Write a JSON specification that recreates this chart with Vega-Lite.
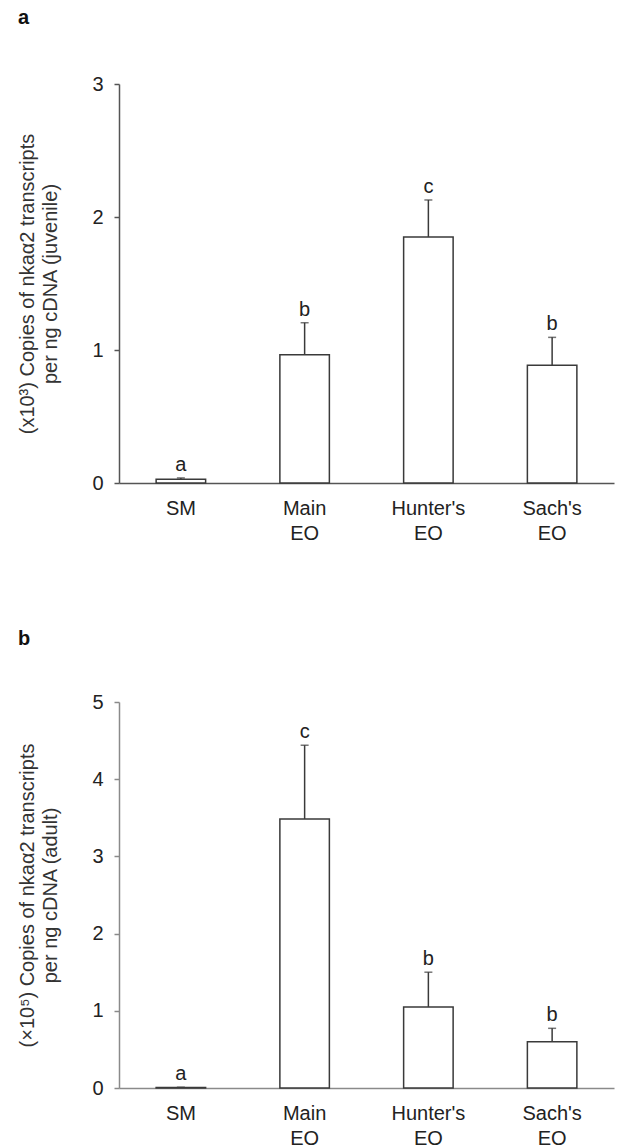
{
  "$schema": "https://vega.github.io/schema/vega-lite/v6.json",
  "padding": {"left": 17, "top": 8, "right": 5, "bottom": 5},
  "background": "white",
  "config": {
    "font": "Liberation Sans",
    "view": {"stroke": null},
    "concat": {"spacing": 86},
    "axis": {
      "grid": false,
      "labelFont": "Liberation Sans",
      "labelFontSize": 20,
      "labelColor": "#222222",
      "domainColor": "#555555",
      "tickColor": "#555555",
      "domainWidth": 1.5,
      "tickWidth": 1.5,
      "titleFont": "Liberation Sans",
      "titleFontSize": 20,
      "titleFontWeight": "normal",
      "titleColor": "#333333"
    },
    "title": {"font": "Liberation Sans", "fontSize": 20, "fontWeight": "bold", "anchor": "start", "frame": "bounds", "color": "#111111", "baseline": "alphabetic"}
  },
  "datasets": {
    "juvenile": [
      {"tissue": "SM", "mean": 0.028, "upper": 0.038, "letter": "a"},
      {"tissue": "Main EO", "mean": 0.965, "upper": 1.205, "letter": "b"},
      {"tissue": "Hunter's EO", "mean": 1.85, "upper": 2.128, "letter": "c"},
      {"tissue": "Sach's EO", "mean": 0.885, "upper": 1.095, "letter": "b"}
    ],
    "adult": [
      {"tissue": "SM", "mean": 0.008, "upper": 0.01, "letter": "a"},
      {"tissue": "Main EO", "mean": 3.485, "upper": 4.44, "letter": "c"},
      {"tissue": "Hunter's EO", "mean": 1.05, "upper": 1.5, "letter": "b"},
      {"tissue": "Sach's EO", "mean": 0.6, "upper": 0.773, "letter": "b"}
    ]
  },
  "vconcat": [
    {
      "title": {"text": "a", "offset": 46},
      "width": 495,
      "height": 399,
      "data": {"name": "juvenile"},
      "encoding": {
        "x": {
          "field": "tissue", "type": "nominal", "sort": null,
          "scale": {"paddingInner": 0.6, "paddingOuter": 0.3},
          "axis": {"title": null, "labelAngle": 0, "ticks": false, "labelPadding": 15, "labelBaseline": "top", "labelLineHeight": 25, "labelExpr": "split(datum.label, ' ')"}
        }
      },
      "layer": [
        {
          "mark": {"type": "bar", "fill": "white", "stroke": "#3a3a3a", "strokeWidth": 1.5},
          "encoding": {
            "y": {
              "field": "mean", "type": "quantitative",
              "scale": {"domain": [0, 3], "nice": false},
              "axis": {"values": [0, 1, 2, 3], "format": "d", "tickSize": 5, "labelPadding": 11, "titlePadding": 31, "titleLineHeight": 23,
                "title": ["(x10³) Copies of nkaα2 transcripts", "per ng cDNA (juvenile)"]}
            }
          }
        },
        {
          "mark": {"type": "rule", "color": "#3a3a3a", "strokeWidth": 1.5},
          "encoding": {"y": {"field": "mean", "type": "quantitative"}, "y2": {"field": "upper"}}
        },
        {
          "mark": {"type": "tick", "color": "#3a3a3a", "thickness": 1.5, "size": 8},
          "encoding": {"y": {"field": "upper", "type": "quantitative"}}
        },
        {
          "mark": {"type": "text", "fontSize": 20, "baseline": "alphabetic", "dy": -7, "color": "#222222"},
          "encoding": {"y": {"field": "upper", "type": "quantitative"}, "text": {"field": "letter"}}
        }
      ]
    },
    {
      "title": {"text": "b", "offset": 43},
      "width": 495,
      "height": 386,
      "data": {"name": "adult"},
      "encoding": {
        "x": {
          "field": "tissue", "type": "nominal", "sort": null,
          "scale": {"paddingInner": 0.6, "paddingOuter": 0.3},
          "axis": {"title": null, "labelAngle": 0, "ticks": false, "labelPadding": 15, "labelBaseline": "top", "labelLineHeight": 25, "labelExpr": "split(datum.label, ' ')", "domainColor": "#8a8a8a"}
        }
      },
      "layer": [
        {
          "mark": {"type": "bar", "fill": "white", "stroke": "#3a3a3a", "strokeWidth": 1.5},
          "encoding": {
            "y": {
              "field": "mean", "type": "quantitative",
              "scale": {"domain": [0, 5], "nice": false},
              "axis": {"values": [0, 1, 2, 3, 4, 5], "format": "d", "tickSize": 5, "labelPadding": 11, "titlePadding": 31, "titleLineHeight": 23, "domainColor": "#8a8a8a", "tickColor": "#8a8a8a",
                "title": ["(×10⁵) Copies of nkaα2 transcripts", "per ng cDNA (adult)"]}
            }
          }
        },
        {
          "mark": {"type": "rule", "color": "#3a3a3a", "strokeWidth": 1.5},
          "encoding": {"y": {"field": "mean", "type": "quantitative"}, "y2": {"field": "upper"}}
        },
        {
          "mark": {"type": "tick", "color": "#3a3a3a", "thickness": 1.5, "size": 8},
          "encoding": {"y": {"field": "upper", "type": "quantitative"}}
        },
        {
          "mark": {"type": "text", "fontSize": 20, "baseline": "alphabetic", "dy": -7, "color": "#222222"},
          "encoding": {"y": {"field": "upper", "type": "quantitative"}, "text": {"field": "letter"}}
        }
      ]
    }
  ]
}
